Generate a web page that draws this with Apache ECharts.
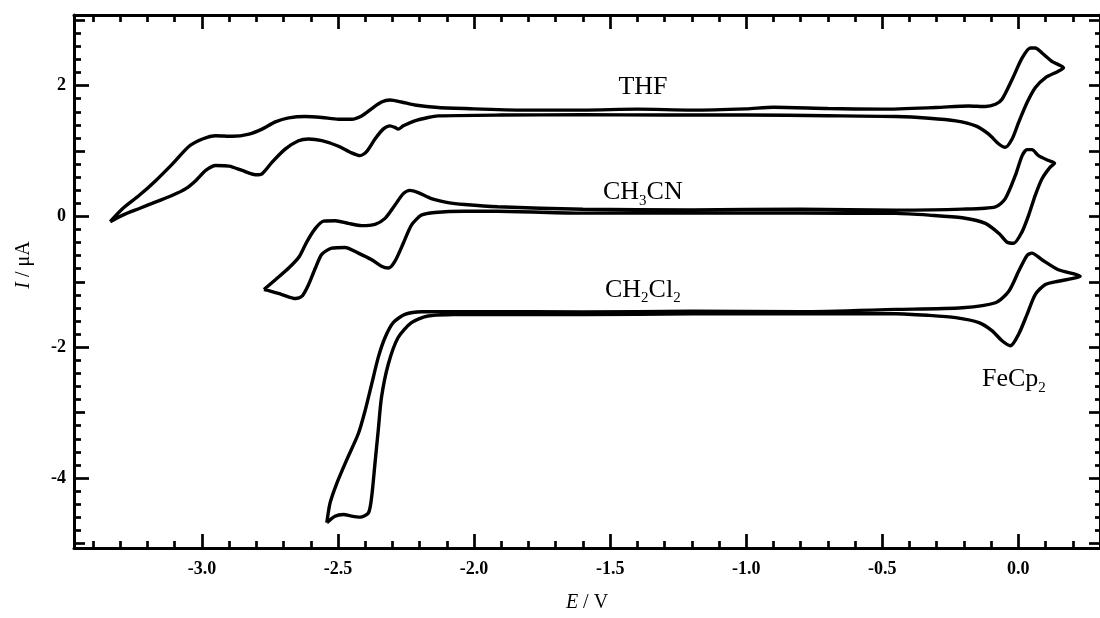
<!DOCTYPE html>
<html>
<head>
<meta charset="utf-8">
<script src="https://cdn.jsdelivr.net/npm/echarts@6/dist/echarts.min.js"></script>
<style>
html, body { margin: 0; padding: 0; background: #fff; }
#cv { width: 1100px; height: 618px; }
</style>
</head>
<body>
<div id="cv"></div>
<script>
// potentials E (V) and currents I (uA), each loop traced once round
var thfE = [-3.337,-3.291,-3.230,-3.169,-3.108,-3.047,-2.998,-2.949,-2.888,-2.827,-2.779,-2.730,-2.681,-2.620,-2.559,-2.498,-2.450,-2.413,-2.376,-2.340,-2.309,-2.267,-2.218,-2.132,
	-2.0,-1.8,-1.6,-1.4,-1.2,-1.0,-0.9,-0.7,-0.5,
	-0.304,-0.182,-0.121,-0.084,-0.060,-0.023,0.014,0.044,0.062,0.087,0.123,0.166,
	0.147,0.099,0.062,0.032,0.001,-0.023,-0.048,-0.072,-0.109,-0.157,-0.230,-0.328,-0.450,
	-0.7,-1.0,-1.3,-1.6,-1.9,
	-2.132,-2.169,-2.218,-2.260,-2.279,-2.291,-2.309,-2.334,-2.364,-2.395,-2.419,-2.450,-2.498,-2.559,-2.608,-2.645,-2.693,-2.742,-2.779,-2.803,-2.852,-2.900,-2.949,-2.986,-3.022,-3.059,-3.108,-3.169,-3.230,-3.291,-3.337];
var thfI = [-0.080,0.121,0.323,0.551,0.804,1.073,1.184,1.234,1.225,1.259,1.335,1.446,1.507,1.528,1.513,1.487,1.487,1.537,1.649,1.750,1.780,1.750,1.704,1.665,
	1.645,1.625,1.625,1.640,1.625,1.645,1.670,1.650,1.640,
	1.665,1.689,1.680,1.715,1.791,2.094,2.423,2.575,2.575,2.499,2.372,2.272,
	2.220,2.120,1.968,1.741,1.437,1.184,1.058,1.108,1.259,1.385,1.461,1.502,1.528,
	1.540,1.550,1.550,1.555,1.550,
	1.537,1.513,1.461,1.385,1.335,1.361,1.385,1.335,1.184,0.991,0.930,0.971,1.073,1.158,1.184,1.158,1.032,0.830,0.652,0.637,0.703,0.769,0.778,0.703,0.551,0.425,0.323,0.223,0.121,0.020,-0.080];

var cnE = [-2.772,-2.730,-2.681,-2.642,-2.614,-2.583,-2.553,-2.510,-2.462,-2.413,-2.364,-2.327,-2.291,-2.260,-2.236,-2.205,-2.157,-2.096,-2.035,-1.913,
	-1.6,-1.2,-0.8,-0.450,
	-0.206,-0.084,-0.048,-0.011,0.014,0.032,0.050,0.074,0.111,0.133,
	0.117,0.087,0.062,0.038,0.014,-0.017,-0.041,-0.072,-0.121,-0.206,-0.328,-0.450,
	-0.8,-1.2,-1.6,
	-1.913,-2.035,-2.144,-2.193,-2.230,-2.260,-2.291,-2.315,-2.340,-2.376,-2.425,-2.474,-2.523,-2.559,-2.583,-2.608,-2.632,-2.656,-2.706,-2.754,-2.772];
var cnI = [-1.118,-0.967,-0.789,-0.612,-0.384,-0.182,-0.071,-0.065,-0.106,-0.141,-0.121,-0.030,0.171,0.349,0.399,0.364,0.273,0.212,0.182,0.147,
	0.110,0.100,0.110,0.096,
	0.111,0.147,0.273,0.627,0.930,1.021,1.021,0.930,0.854,0.815,
	0.754,0.577,0.323,0.020,-0.232,-0.410,-0.395,-0.258,-0.106,-0.020,0.020,0.046,
	0.050,0.050,0.050,
	0.080,0.080,0.061,0.020,-0.132,-0.410,-0.687,-0.789,-0.763,-0.663,-0.561,-0.475,-0.486,-0.577,-0.789,-1.042,-1.219,-1.255,-1.194,-1.134,-1.118];

var dcmE = [-2.541,-2.529,-2.504,-2.468,-2.425,-2.400,-2.376,-2.352,-2.327,-2.297,-2.254,-2.193,-2.108,-1.986,
	-1.6,-1.2,-0.8,
	-0.450,-0.206,-0.084,-0.035,0.001,0.032,0.050,0.087,0.147,0.227,
	0.147,0.099,0.062,0.032,0.001,-0.029,-0.060,-0.096,-0.145,-0.230,-0.328,-0.450,
	-0.8,-1.2,-1.6,
	-1.986,-2.169,-2.230,-2.279,-2.315,-2.340,-2.352,-2.364,-2.376,-2.388,-2.419,-2.450,-2.480,-2.511,-2.541];
var dcmI = [-4.684,-4.381,-4.077,-3.722,-3.319,-2.964,-2.560,-2.155,-1.851,-1.624,-1.498,-1.457,-1.457,-1.457,
	-1.460,-1.450,-1.455,
	-1.422,-1.396,-1.320,-1.143,-0.839,-0.596,-0.561,-0.663,-0.815,-0.915,
	-0.991,-1.042,-1.194,-1.498,-1.801,-1.977,-1.901,-1.750,-1.624,-1.548,-1.513,-1.487,
	-1.490,-1.490,-1.500,
	-1.498,-1.522,-1.624,-1.851,-2.256,-2.762,-3.267,-3.774,-4.279,-4.533,-4.598,-4.583,-4.557,-4.583,-4.684];

// axis ticks
var xMajor = [-3.0,-2.5,-2.0,-1.5,-1.0,-0.5,0.0];
var yMajor = [-4,-2,0,2];
var yMid = [-5,-3,-1,1,3];
var xMin = -3.47, xMax = 0.3, yMin = -5.07, yMax = 3.08;

var xMinor = [];
for (var k = -34; k <= 3; k++) {
	if (k % 5 !== 0) xMinor.push(k / 10);
}
var yMinor = [];
for (var j = -25; j <= 15; j++) {
	if (j % 5 !== 0) yMinor.push(j / 5);
}

function zip(a, b) {
	var out = [];
	for (var i = 0; i < Math.min(a.length, b.length); i++) out.push([a[i], b[i]]);
	return out;
}

var serif = '"Liberation Serif", "Times New Roman", serif';
var black = '#000';

function axis(pos, min, max, ticks, len, label) {
	return {
		type: 'value',
		position: pos,
		min: min,
		max: max,
		scale: true,
		splitLine: { show: false },
		axisLine: { show: !!label, onZero: false, lineStyle: { color: black, width: 3 } },
		axisTick: { show: true, inside: true, length: len, customValues: ticks, lineStyle: { color: black, width: 2.7 } },
		axisLabel: label ? label : { show: false }
	};
}

var xLabel = {
	show: true, customValues: xMajor, margin: 12,
	fontFamily: serif, fontWeight: 'bold', fontSize: 18, color: black,
	formatter: function (v) { return v.toFixed(1); }
};
var yLabel = {
	show: true, customValues: yMajor, margin: 8,
	fontFamily: serif, fontWeight: 'bold', fontSize: 18, color: black,
	formatter: function (v) { return String(v); }
};
var noLabelLine = { show: false };

var xAxes = [
	axis('bottom', xMin, xMax, xMajor, 14, xLabel),
	axis('bottom', xMin, xMax, xMinor, 7, null),
	axis('top', xMin, xMax, xMajor, 14, noLabelLine),
	axis('top', xMin, xMax, xMinor, 7, null)
];
xAxes[2].axisLine.show = true;
xAxes[0].name = '{i|E} / V';
xAxes[0].nameLocation = 'middle';
xAxes[0].nameGap = 45;
xAxes[0].nameTextStyle = {
	fontFamily: serif, fontSize: 20, color: black,
	rich: { i: { fontFamily: serif, fontSize: 20, fontStyle: 'italic', color: black } }
};

var yAxes = [
	axis('left', yMin, yMax, yMajor, 15, yLabel),
	axis('left', yMin, yMax, yMid, 11, null),
	axis('left', yMin, yMax, yMinor, 7, null),
	axis('right', yMin, yMax, yMajor, 11, noLabelLine),
	axis('right', yMin, yMax, yMid, 11, null),
	axis('right', yMin, yMax, yMinor, 5, null)
];
yAxes[3].axisLine.show = true;

function cvSeries(name, data) {
	return {
		name: name,
		type: 'line',
		xAxisIndex: 0,
		yAxisIndex: 0,
		data: data,
		showSymbol: false,
		smooth: 0.25,
		silent: true,
		lineStyle: { color: black, width: 3.4 }
	};
}

var sub = function (pad) {
	return {
		m: { fontFamily: serif, fontSize: 26, lineHeight: 26, verticalAlign: 'top', color: black },
		s: { fontFamily: serif, fontSize: 15, lineHeight: 15, verticalAlign: 'top', padding: [pad, 0, 0, 0], color: black }
	};
};

var chart = echarts.init(document.getElementById('cv'), null, { renderer: 'canvas' });
chart.setOption({
	animation: false,
	backgroundColor: '#fff',
	grid: { left: 74, right: -5, top: 15, bottom: 66, containLabel: false },
	xAxis: xAxes,
	yAxis: yAxes,
	series: [
		cvSeries('THF', zip(thfE, thfI)),
		cvSeries('CH3CN', zip(cnE, cnI)),
		cvSeries('CH2Cl2', zip(dcmE, dcmI))
	],
	graphic: [
		{ type: 'text', x: 643, y: 87.5, silent: true,
			style: { text: 'THF', font: '26px ' + serif, fill: black, align: 'center', verticalAlign: 'middle', textAlign: 'center', textVerticalAlign: 'middle' } },
		{ type: 'text', x: 603, y: 179.5, silent: true,
			style: { text: '{m|CH}{s|3}{m|CN}', rich: sub(14), align: 'left', verticalAlign: 'top', textAlign: 'left', textVerticalAlign: 'top' } },
		{ type: 'text', x: 605, y: 277, silent: true,
			style: { text: '{m|CH}{s|2}{m|Cl}{s|2}', rich: sub(14), align: 'left', verticalAlign: 'top', textAlign: 'left', textVerticalAlign: 'top' } },
		{ type: 'text', x: 982, y: 366.5, silent: true,
			style: { text: '{m|FeCp}{s|2}', rich: sub(14), align: 'left', verticalAlign: 'top', textAlign: 'left', textVerticalAlign: 'top' } },
		{ type: 'text', x: 24, y: 265, rotation: Math.PI / 2, silent: true,
			style: {
				text: '{i|I} / μA', font: '20px ' + serif, fill: black,
				rich: { i: { fontFamily: serif, fontSize: 20, fontStyle: 'italic', color: black } },
				align: 'center', verticalAlign: 'middle', textAlign: 'center', textVerticalAlign: 'middle'
			} }
	]
});
</script>
</body>
</html>
